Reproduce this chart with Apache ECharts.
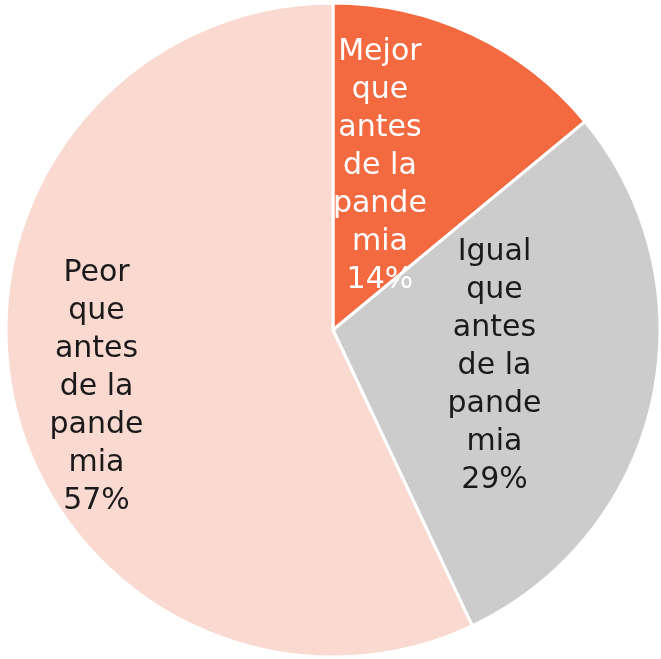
<!DOCTYPE html>
<html>
<head>
<meta charset="utf-8">
<script src="https://cdn.jsdelivr.net/npm/echarts@6/dist/echarts.min.js"></script>
<style>
  html, body { margin: 0; padding: 0; background: #fff; }
  #chart { width: 661px; height: 659px; }
</style>
</head>
<body>
<div id="chart"></div>
<script>
// categorías y valores (%)
const categories = ['Mejor\nque\nantes\nde la\npande\nmia', 'Igual\nque\nantes\nde la\npande\nmia', 'Peor\nque\nantes\nde la\npande\nmia'];
const values = [14, 29, 57];
const colors = ['#F46A40', '#CCCCCC', '#FAD9D0'];
const labelColors = ['#ffffff', '#1a1a1a', '#1a1a1a'];

const chart = echarts.init(document.getElementById('chart'));

const option = {
    animation: false,
    series: [{
        type: 'pie',
        center: [333, 330],
        radius: 327,
        startAngle: 90,
        clockwise: true,
        data: categories.map((name, i) => ({
            name: name,
            value: values[i],
            itemStyle: { color: colors[i] },
            label: { color: labelColors[i] }
        })),
        itemStyle: {
            borderColor: '#ffffff',
            borderWidth: 3
        },
        label: {
            show: true,
            position: 'inside',
            formatter: '{b}\n{c}%',
            fontFamily: 'DejaVu Sans',
            fontSize: 30,
            lineHeight: 38,
            align: 'center'
        },
        labelLine: { show: false },
        // ajustes de posición de las etiquetas
        labelLayout: function (params) {
            if (params.dataIndex === 0) return { dx: -24, dy: -13 };
            if (params.dataIndex === 1) return { dx: -1, dy: 0 };
            if (params.dataIndex === 2) return { dx: -74, dy: 21 };
            return {};
        }
    }]
};

chart.setOption(option);
</script>
</body>
</html>
